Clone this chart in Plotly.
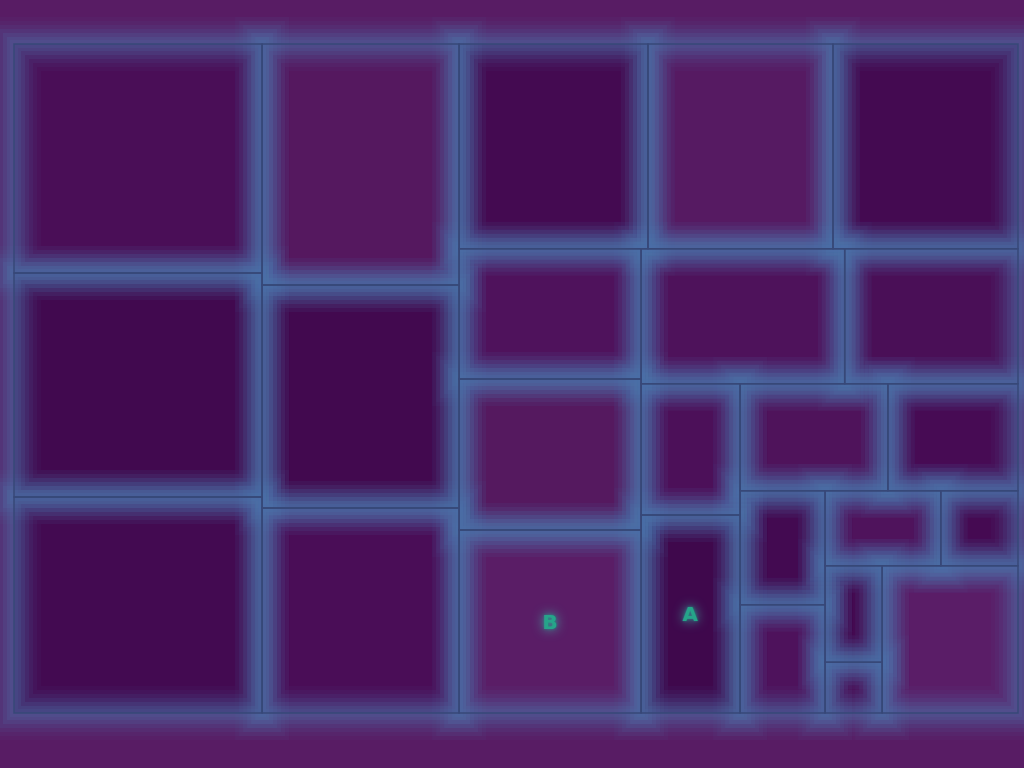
import plotly.graph_objects as go

# hierarchy (guillotine layout)
ids = [
    "root",
    "col1", "c1a", "c1b", "c1c",
    "col2", "c2a", "c2b", "c2c",
    "right",
    "top", "t1", "t2", "t3",
    "bottom",
    "colL", "l1", "l2", "B",
    "colR",
    "row", "r1", "r2",
    "below",
    "colA", "a1", "A",
    "rest",
    "restTop", "rt1", "rt2",
    "restBot",
    "k1", "k1a", "k1b",
    "k2",
    "m1", "m1a", "m1b",
    "m2",
    "n", "na", "nb",
    "n2",
]
parents = [
    "",
    "root", "col1", "col1", "col1",
    "root", "col2", "col2", "col2",
    "root",
    "right", "top", "top", "top",
    "right",
    "bottom", "colL", "colL", "colL",
    "bottom",
    "colR", "row", "row",
    "colR",
    "below", "colA", "colA",
    "below",
    "rest", "restTop", "restTop",
    "rest",
    "restBot", "k1", "k1",
    "restBot",
    "k2", "m1", "m1",
    "k2",
    "m2", "n", "n",
    "m2",
]
values = [
    0,
    0, 568, 556, 536,
    0, 475, 439, 404,
    0,
    0, 387, 379, 379,
    0,
    0, 237, 275, 333,
    0,
    0, 275, 234,
    0,
    0, 130, 196,
    0,
    0, 158, 139,
    0,
    0, 97, 92,
    0,
    0, 87, 58,
    0,
    0, 55, 29,
    200,
]
texts = ["B" if i == "B" else ("A" if i == "A" else "") for i in ids]

P = "#581c64"
fills = [
    P,
    P, "#4a0e57", "#41094f", "#430a51",
    P, "#55185f", "#42094f", "#4a0d57",
    P,
    P, "#440a51", "#561a62", "#440a51",
    P,
    P, "#4f125c", "#55195f", "#5a1d66",
    P,
    P, "#4e125b", "#4a0f57",
    P,
    P, "#4c1059", "#3f084c",
    P,
    P, "#4f135b", "#470b54",
    P,
    P, "#430a51", "#4e125c",
    P,
    P, "#4f135c", "#450a52",
    P,
    P, "#440a51", "#4a0e56",
    "#5a1d67",
]

is_leaf = [i not in parents for i in ids]
root_or_leaf = [p == "" or lf for p, lf in zip(parents, is_leaf)]
clear = ["rgba(0,0,0,0)"] * len(ids)
nopad = dict(t=0, l=0, r=0, b=0)

common = dict(
    ids=ids, labels=ids, parents=parents, values=values,
    branchvalues="remainder", sort=False,
    tiling=dict(packing="slice-dice", pad=0),
    pathbar=dict(visible=False),
    root=dict(color="rgba(0,0,0,0)"),
    domain=dict(x=[0, 1], y=[0, 1]),
    hoverinfo="skip",
)

fig = go.Figure()
fig.add_trace(go.Treemap(**common, textinfo="none",
                         marker=dict(colors=fills, line=dict(width=0), pad=nopad, depthfade=False)))

glow = [(54, 0.05), (46, 0.07), (38, 0.09), (30, 0.12), (22, 0.15), (14, 0.17), (8, 0.12)]
for w, a in glow:
    fig.add_trace(go.Treemap(**common, textinfo="none",
                             marker=dict(colors=clear, pad=nopad, depthfade=False,
                                         line=dict(color=f"rgba(78,118,172,{a})",
                                                   width=[w if rl else 0 for rl in root_or_leaf]))))

fig.add_trace(go.Treemap(**common, textinfo="none",
                         marker=dict(colors=clear, pad=nopad, depthfade=False,
                                     line=dict(color="#374878", width=[1.5 if rl else 0 for rl in root_or_leaf]))))

fig.add_trace(go.Treemap(**common, text=texts, texttemplate="%{text}", textposition="middle center",
                         textfont=dict(size=20, color="#26a48a", family="DejaVu Sans, sans-serif",
                                       weight="bold",
                                       shadow="0px 0px 12px #3cc6ae, 0px 0px 3px #1d6f70"),
                         marker=dict(colors=clear, pad=nopad, depthfade=False, line=dict(width=0))))

fig.update_layout(
    width=1024, height=768,
    margin=dict(l=14, r=6, t=44, b=55),
    paper_bgcolor="#581c64", plot_bgcolor="#581c64",
    showlegend=False,
)
fig.write_html("out.html")
